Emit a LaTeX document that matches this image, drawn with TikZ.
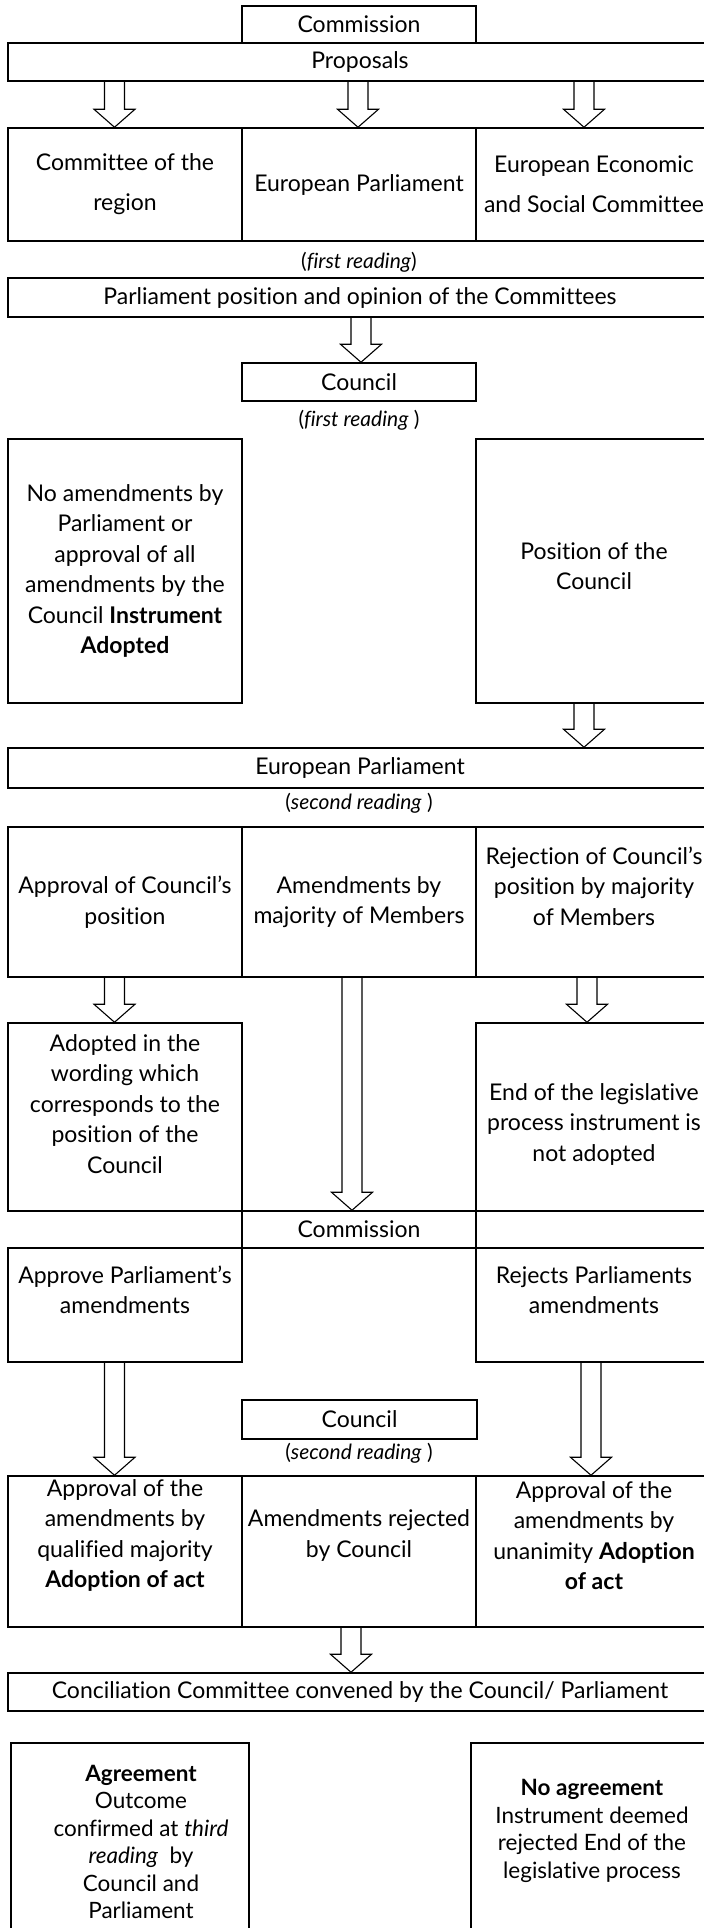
\documentclass[tikz,border=0pt]{standalone}
\usepackage{fontspec}
\setmainfont{Lato}[Ligatures={TeX,NoCommon}]
\usetikzlibrary{calc}

\newcommand{\hollowarrow}[3]{%
  \draw[arrowline] let \p1=(#2), \p2=(#3) in
    (#1*1pt-10pt,\y1) -- (#1*1pt-10pt,\y2+18pt) -- (#1*1pt-20.5pt,\y2+18pt) -- (#1*1pt,\y2)
    -- (#1*1pt+20.5pt,\y2+18pt) -- (#1*1pt+10pt,\y2+18pt) -- (#1*1pt+10pt,\y1);}

\begin{document}
\begin{tikzpicture}[x=1pt,y=-1pt,
    box/.style={draw, line width=1.5pt, rectangle, inner sep=0pt, align=center,
      font=\fontsize{23}{30.5}\selectfont},
    plain/.style={inner sep=0pt, align=center, font=\fontsize{23}{30.5}\selectfont},
    note/.style={inner sep=0pt, align=center, font=\fontsize{21}{25}\selectfont},
    small/.style={inner sep=0pt, align=center, font=\fontsize{22.5}{27.5}\selectfont},
    arrowline/.style={line width=1.1pt, line join=miter}]
    \useasboundingbox (0,0) rectangle (704,1928);
    \clip (0,0) rectangle (704,1928);

    % proposals
    \node[box, minimum width=234, minimum height=37] (comm1) at (359,24.5) {Commission};
    \node[box, minimum width=704, minimum height=38] (prop) at (360,62) {Proposals};

    \node[box, minimum width=234, minimum height=113, font=\fontsize{23}{40}\selectfont] (cor) at (125,184.5) {Committee of the\\region};
    \node[box, minimum width=234, minimum height=113] (ep1) at (359,184.5) {European Parliament};
    \node[box, minimum width=236, minimum height=113, font=\fontsize{23}{40}\selectfont] (eesc) at (594,184.5) {European Economic\\and Social Committee};
    \node[note] (fr1) at (359,262) {(\textit{first reading})};

    \node[box, minimum width=704, minimum height=39] (pp) at (360,297.5) {Parliament position and opinion of the Committees};
    \node[box, minimum width=234, minimum height=38] (cou1) at (359,382) {Council};
    \node[note] (fr2) at (359,420) {(\textit{first reading} )};

    \node[box, minimum width=234, minimum height=264] (noam) at (125,571) {No amendments by\\Parliament or\\approval of all\\amendments by the\\Council \textbf{Instrument}\\\textbf{Adopted}};
    \node[box, minimum width=236, minimum height=264] (pos) at (594,571) {};
    \node[plain] (pos-t) at ([yshift=5]pos.center) {Position of the\\Council};

    % second reading
    \node[box, minimum width=704, minimum height=40] (ep2) at (360,768) {European Parliament};
    \node[note] (sr1) at (359,803) {(\textit{second reading} )};

    \node[box, minimum width=234, minimum height=150] (appc) at (125,902) {Approval of Council's\\position};
    \node[box, minimum width=234, minimum height=150] (amdm) at (359,902) {Amendments by\\majority of Members};
    \node[box, minimum width=236, minimum height=150] (rejc) at (594,902) {};
    \node[plain] (rejc-t) at ([yshift=16]rejc.center) {Rejection of Council's\\position by majority\\of Members};

    \node[box, minimum width=234, minimum height=188] (adop) at (125,1117) {};
    \node[plain] (adop-t) at ([yshift=13]adop.center) {Adopted in the\\wording which\\corresponds to the\\position of the\\Council};
    \node[box, minimum width=236, minimum height=188] (endl) at (594,1117) {};
    \node[plain] (endl-t) at ([yshift=-7]endl.center) {End of the legislative\\process instrument is\\not adopted};

    \node[box, minimum width=234, minimum height=37] (comm2) at (359,1229.5) {Commission};
    \node[box, minimum width=234, minimum height=114] (appa) at (125,1305) {};
    \node[plain] (appa-t) at ([yshift=15]appa.center) {Approve Parliament's\\amendments};
    \node[box, minimum width=236, minimum height=114] (reja) at (594,1305) {};
    \node[plain] (reja-t) at ([yshift=15]reja.center) {Rejects Parliaments\\amendments};

    \node[box, minimum width=235, minimum height=39] (cou2) at (359.5,1419.5) {Council};
    \node[note] (sr2) at (359,1453) {(\textit{second reading} )};

    \node[box, minimum width=234, minimum height=151] (aqm) at (125,1551.5) {};
    \node[plain] (aqm-t) at ([yshift=16]aqm.center) {Approval of the\\amendments by\\qualified majority\\\textbf{Adoption of act}};
    \node[box, minimum width=234, minimum height=151] (arc) at (359,1551.5) {};
    \node[plain] (arc-t) at ([yshift=16]arc.center) {Amendments rejected\\by Council};
    \node[box, minimum width=236, minimum height=151] (aun) at (594,1551.5) {};
    \node[plain] (aun-t) at ([yshift=16]aun.center) {Approval of the\\amendments by\\unanimity \textbf{Adoption}\\\textbf{of act}};

    % third reading
    \node[box, minimum width=704, minimum height=38] (conc) at (360,1692) {Conciliation Committee convened by the Council/ Parliament};
    \node[box, minimum width=238, minimum height=207] (agr) at (130,1846.5) {};
    \node[small] (agr-t) at (141,1842) {\textbf{Agreement}\\Outcome\\confirmed at \textit{third}\\\textit{reading}\ \ by\\Council and\\Parliament};
    \node[box, minimum width=240, minimum height=207] (noag) at (591,1846.5) {};
    \node[small] (noag-t) at (592,1831) {\textbf{No agreement}\\Instrument deemed\\rejected End of the\\legislative process};

    % arrows
    \hollowarrow{114.5}{prop.south}{cor.north}
    \hollowarrow{358}{prop.south}{ep1.north}
    \hollowarrow{584}{prop.south}{eesc.north}
    \hollowarrow{361}{pp.south}{cou1.north}
    \hollowarrow{584}{pos.south}{ep2.north}
    \hollowarrow{114.5}{appc.south}{adop.north}
    \hollowarrow{352}{amdm.south}{comm2.north}
    \hollowarrow{587}{rejc.south}{endl.north}
    \hollowarrow{114.5}{appa.south}{aqm.north}
    \hollowarrow{591}{reja.south}{aun.north}
    \hollowarrow{351}{arc.south}{conc.north}
\end{tikzpicture}
\end{document}
